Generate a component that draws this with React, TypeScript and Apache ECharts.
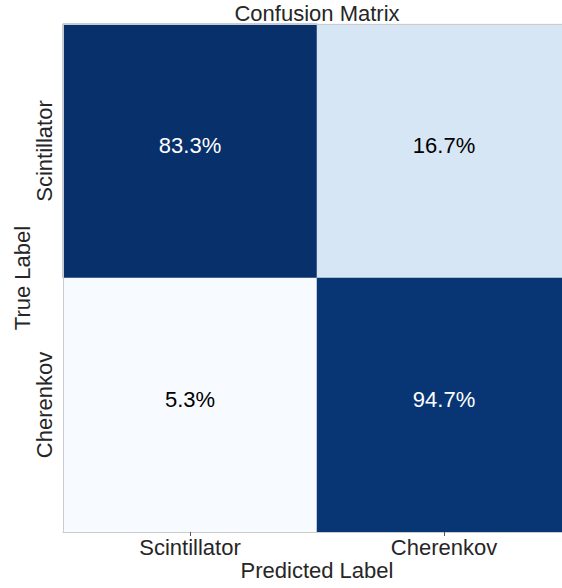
import React, { useEffect, useRef } from "react";
import * as echarts from "echarts";

const predictedLabels = ["Scintillator", "Cherenkov"];
const trueLabels = ["Scintillator", "Cherenkov"];
const rowScintillator = [83.3, 16.7];
const rowCherenkov = [5.3, 94.7];
const percentRows = [rowScintillator, rowCherenkov];

const FONT = "Liberation Sans, Arial, sans-serif";

export default function App() {
  const ref = useRef<HTMLDivElement>(null);
  useEffect(() => {
    document.body.style.margin = "0";
    document.body.style.overflow = "hidden";
    if (!ref.current) return;
    const chart = echarts.init(ref.current, null, { renderer: "svg" });
    const data: any[] = [];
    percentRows.forEach((row, ti) => {
      row.forEach((v, pi) => {
        data.push({
          value: [pi, ti, v],
          label: { color: v > 50 ? "#ffffff" : "#000000" },
        });
      });
    });
    chart.setOption({
      animation: false,
      backgroundColor: "#ffffff",
      title: {
        text: "Confusion Matrix",
        left: 317,
        top: 2,
        padding: 0,
        textAlign: "center",
        textStyle: { fontFamily: FONT, fontSize: 22, fontWeight: "normal", color: "#262626" },
      },
      visualMap: {
        type: "piecewise",
        show: false,
        dimension: 2,
        pieces: [
          { lt: 10, color: "#f7fbff" },
          { gte: 10, lt: 50, color: "#d6e6f4" },
          { gte: 50, lt: 90, color: "#08306b" },
          { gte: 90, color: "#083675" },
        ],
      },
      grid: { left: 63, top: 24, width: 508, height: 508, containLabel: false, outerBoundsMode: "none" },
      xAxis: [
        {
          type: "category",
          data: predictedLabels,
          position: "bottom",
          name: "Predicted Label",
          nameLocation: "middle",
          nameMoveOverlap: false,
          nameGap: 27,
          nameTextStyle: { fontFamily: FONT, fontSize: 22, color: "#262626" },
          axisLine: { show: true, lineStyle: { color: "#cccccc", width: 1 } },
          axisTick: { show: true, alignWithLabel: true, length: 4, lineStyle: { color: "#555555" } },
          axisLabel: { fontFamily: FONT, fontSize: 22, color: "#262626", margin: 4 },
          splitLine: { show: false },
          splitArea: { show: false },
          z: 10,
        },
        {
          type: "category",
          data: predictedLabels,
          position: "top",
          axisLine: { show: true, lineStyle: { color: "#cccccc", width: 1 } },
          axisTick: { show: false },
          axisLabel: { show: false },
          z: 10,
        },
      ],
      yAxis: [
        {
          type: "category",
          data: trueLabels,
          inverse: true,
          position: "left",
          name: "True Label",
          nameLocation: "middle",
          nameMoveOverlap: false,
          nameGap: 30,
          nameTextStyle: { fontFamily: FONT, fontSize: 22, color: "#262626" },
          axisLine: { show: true, lineStyle: { color: "#cccccc", width: 1 } },
          axisTick: { show: false },
          axisLabel: { fontFamily: FONT, fontSize: 22, color: "#262626", margin: 8, rotate: 90 },
          splitLine: { show: false },
          z: 10,
        },
      ],
      series: [
        {
          type: "heatmap",
          data,
          label: {
            show: true,
            fontFamily: FONT,
            fontSize: 22,
            offset: [0, -6],
            formatter: (p: any) => p.value[2].toFixed(1) + "%",
          },
          emphasis: { disabled: true },
        },
      ],
    });
    return () => chart.dispose();
  }, []);
  return <div ref={ref} style={{ width: 580, height: 588 }} />;
}
